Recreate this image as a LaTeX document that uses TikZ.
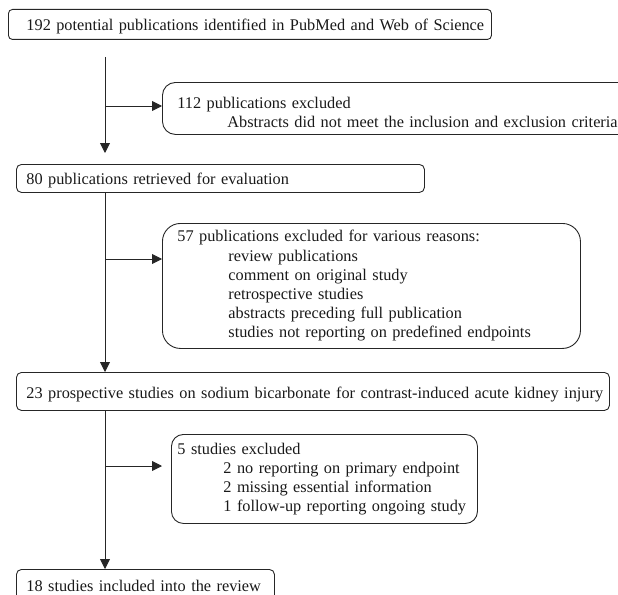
\documentclass[tikz,border=0pt]{standalone}
\usepackage{fontspec}
\setmainfont{Liberation Serif}
\usetikzlibrary{arrows.meta}
\newcommand{\lift}[1]{\rule{0pt}{#1}}
\begin{document}
\begin{tikzpicture}[x=1pt,y=-1pt,
  every node/.style={font=\fontsize{16.3}{19.2}\selectfont, inner sep=0pt, align=left, anchor=north west, text=black!90},
  box/.style={draw=black!85, line width=0.9pt},
  arr/.style={draw=black!85, line width=0.9pt, -{Triangle[length=10pt,width=10pt]}}]
\useasboundingbox (0,0) rectangle (618,594);
% main boxes
\node[box, rounded corners=4pt, text width=483pt, minimum height=30pt] (s1) at (8,9)
  {\hspace*{18pt}\lift{15pt}\mbox{192 potential publications identified in PubMed and Web of Science}};
\node[box, rounded corners=5pt, text width=408pt, minimum height=28pt] (s2) at (16,164)
  {\hspace*{10pt}\lift{15pt}\mbox{80 publications retrieved for evaluation}};
\node[box, rounded corners=5pt, text width=593pt, minimum height=38pt] (s3) at (16,372)
  {\hspace*{10pt}\lift{17pt}\mbox{23 prospective studies on sodium bicarbonate for contrast-induced acute kidney injury}};
\node[box, rounded corners=5pt, text width=258pt, minimum height=32pt] (s4) at (16,569)
  {\hspace*{10pt}\mbox{18 studies included into the review}};
% exclusion boxes
\node[box, rounded corners=13pt, text width=480pt, minimum height=52pt] (x1) at (162,82)
  {\hspace*{15pt}\lift{19pt}\mbox{112 publications excluded}\\
   \hspace*{65pt}\mbox{Abstracts did not meet the inclusion and exclusion criteria}};
\node[box, rounded corners=18pt, text width=418pt, minimum height=125pt] (x2) at (162,223)
  {\hspace*{15pt}57 publications excluded for various reasons:\\
   \hspace*{66pt}review publications\\
   \hspace*{66pt}comment on original study\\
   \hspace*{66pt}retrospective studies\\
   \hspace*{66pt}abstracts preceding full publication\\
   \hspace*{66pt}studies not reporting on predefined endpoints};
\node[box, rounded corners=12pt, text width=306pt, minimum height=89pt] (x3) at (171,434)
  {\hspace*{6pt}5 studies excluded\\
   \hspace*{52pt}2 no reporting on primary endpoint\\
   \hspace*{52pt}2 missing essential information\\
   \hspace*{52pt}1 follow-up reporting ongoing study};
% connectors
\coordinate (a0) at (105,57);
\coordinate (b1) at (105,106);
\coordinate (b2) at (105,259);
\coordinate (b3) at (105,466);
\draw[arr, shorten >=11pt] (a0) -- (a0 |- s2.north);
\draw[arr] (b1) -- (b1 -| x1.west);
\draw[arr] (a0 |- s2.south) -- (a0 |- s3.north);
\draw[arr] (b2) -- (b2 -| x2.west);
\draw[arr] (a0 |- s3.south) -- (a0 |- s4.north);
\draw[arr, shorten >=9pt] (b3) -- (b3 -| x3.west);
\end{tikzpicture}
\end{document}
